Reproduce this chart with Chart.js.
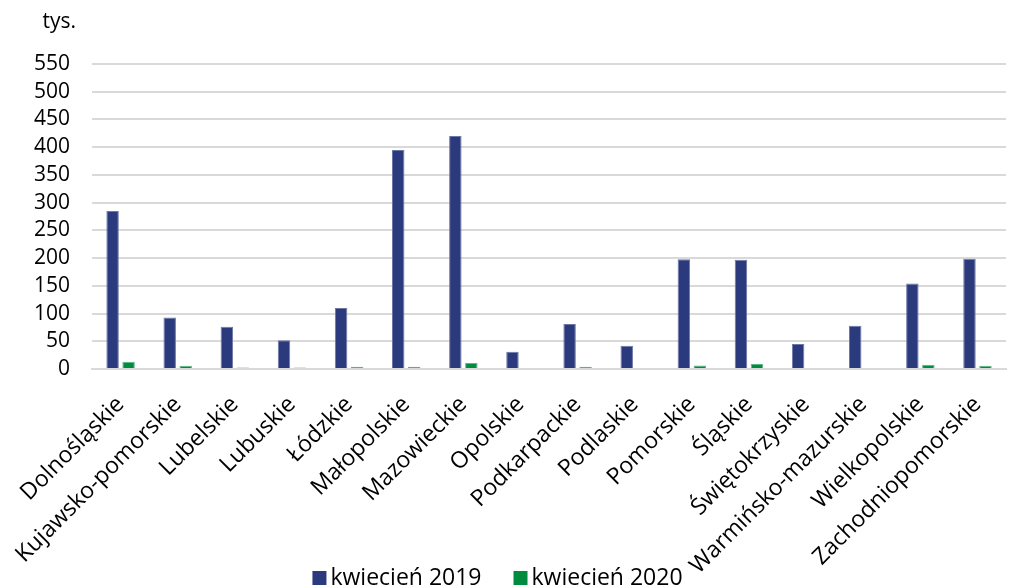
<!DOCTYPE html>
<html>
<head>
<meta charset="utf-8">
<script src="https://cdn.jsdelivr.net/npm/chart.js@4/dist/chart.umd.min.js"></script>
<style>
html,body{margin:0;padding:0;background:#fff;}
#wrap{width:1019px;height:587px;position:relative;}
</style>
</head>
<body>
<div id="wrap"><canvas id="c"></canvas></div>
<script>
const categories = ["Dolnośląskie","Kujawsko-pomorskie","Lubelskie","Lubuskie","Łódzkie","Małopolskie","Mazowieckie","Opolskie","Podkarpackie","Podlaskie","Pomorskie","Śląskie","Świętokrzyskie","Warmińsko-mazurskie","Wielkopolskie","Zachodniopomorskie"];
const april2019 = [285, 93, 76, 52, 110, 395, 420, 31, 81, 42, 198, 197, 45, 78, 154, 199];
const april2020 = [13, 6, 2.5, 2.5, 4, 4, 11, 2, 4, 2, 6.5, 9, 2, 2, 7.5, 6];
const seriesNames = ["kwiecień 2019", "kwiecień 2020"];
const unitLabel = "tys.";
const yMax = 550, yStep = 50;

const FONT = "'Open Sans', 'Noto Sans', sans-serif";
const FS = 21;
const FSX = 23;

const unitPlugin = {
  id: 'unit',
  afterDraw(chart) {
    const ctx = chart.ctx;
    const y = chart.scales.y;
    ctx.save();
    ctx.font = FS + "px " + FONT;
    ctx.fillStyle = "#000";
    ctx.textAlign = "right";
    ctx.textBaseline = "middle";
    ctx.fillText(unitLabel, y.right - 16, 22);
    ctx.restore();
  }
};

// Legend drawn from the datasets (labels/colours come from chart data)
const bottomLegend = {
  id: 'bottomLegend',
  afterDraw(chart) {
    const ctx = chart.ctx;
    const ds = chart.data.datasets;
    const box = 14, gapText = 4, gapItem = 32;
    ctx.save();
    ctx.font = FSX + "px " + FONT;
    ctx.textBaseline = "middle";
    ctx.textAlign = "left";
    const widths = ds.map(d => ctx.measureText(d.label).width);
    const total = widths.reduce((a, w) => a + box + gapText + w, 0) + gapItem * (ds.length - 1);
    let x = chart.width / 2 - 12 - total / 2;
    const yc = chart.height - 9;
    ds.forEach((d, i) => {
      ctx.fillStyle = d.backgroundColor;
      ctx.fillRect(x, yc - box / 2, box, box);
      x += box + gapText;
      ctx.fillStyle = "#000";
      ctx.fillText(d.label, x, yc);
      x += widths[i] + gapItem;
    });
    ctx.restore();
  }
};

new Chart(document.getElementById('c'), {
  type: 'bar',
  data: {
    labels: categories,
    datasets: [
      { label: seriesNames[0], data: april2019, backgroundColor: '#2B3A7C', borderColor: '#6E78A8', borderWidth: 1, categoryPercentage: 0.56, barPercentage: 0.78 },
      { label: seriesNames[1], data: april2020, backgroundColor: '#008C3F', borderColor: '#5DB685', borderWidth: 1, categoryPercentage: 0.56, barPercentage: 0.78 }
    ]
  },
  options: {
    responsive: true,
    maintainAspectRatio: false,
    animation: false,
    layout: { padding: { top: 64, left: 12, right: -10, bottom: 0 } },
    plugins: {
      legend: { display: false },
      tooltip: { enabled: false },
      title: { display: false }
    },
    scales: {
      x: {
        grid: { display: false, drawTicks: false },
        border: { color: '#d9d9d9', width: 2 },
        ticks: { maxRotation: 45, minRotation: 45, autoSkip: false, color: '#000', font: { family: FONT, size: FSX }, padding: 22 },
        afterFit(scale) { scale.height = 218; }
      },
      y: {
        min: 0, max: yMax,
        grid: { color: '#d9d9d9', lineWidth: 2, drawTicks: false },
        border: { display: false },
        ticks: { stepSize: yStep, autoSkip: false, color: '#000', font: { family: FONT, size: FS }, padding: 22 }
      }
    }
  },
  plugins: [unitPlugin, bottomLegend]
});
</script>
</body>
</html>
